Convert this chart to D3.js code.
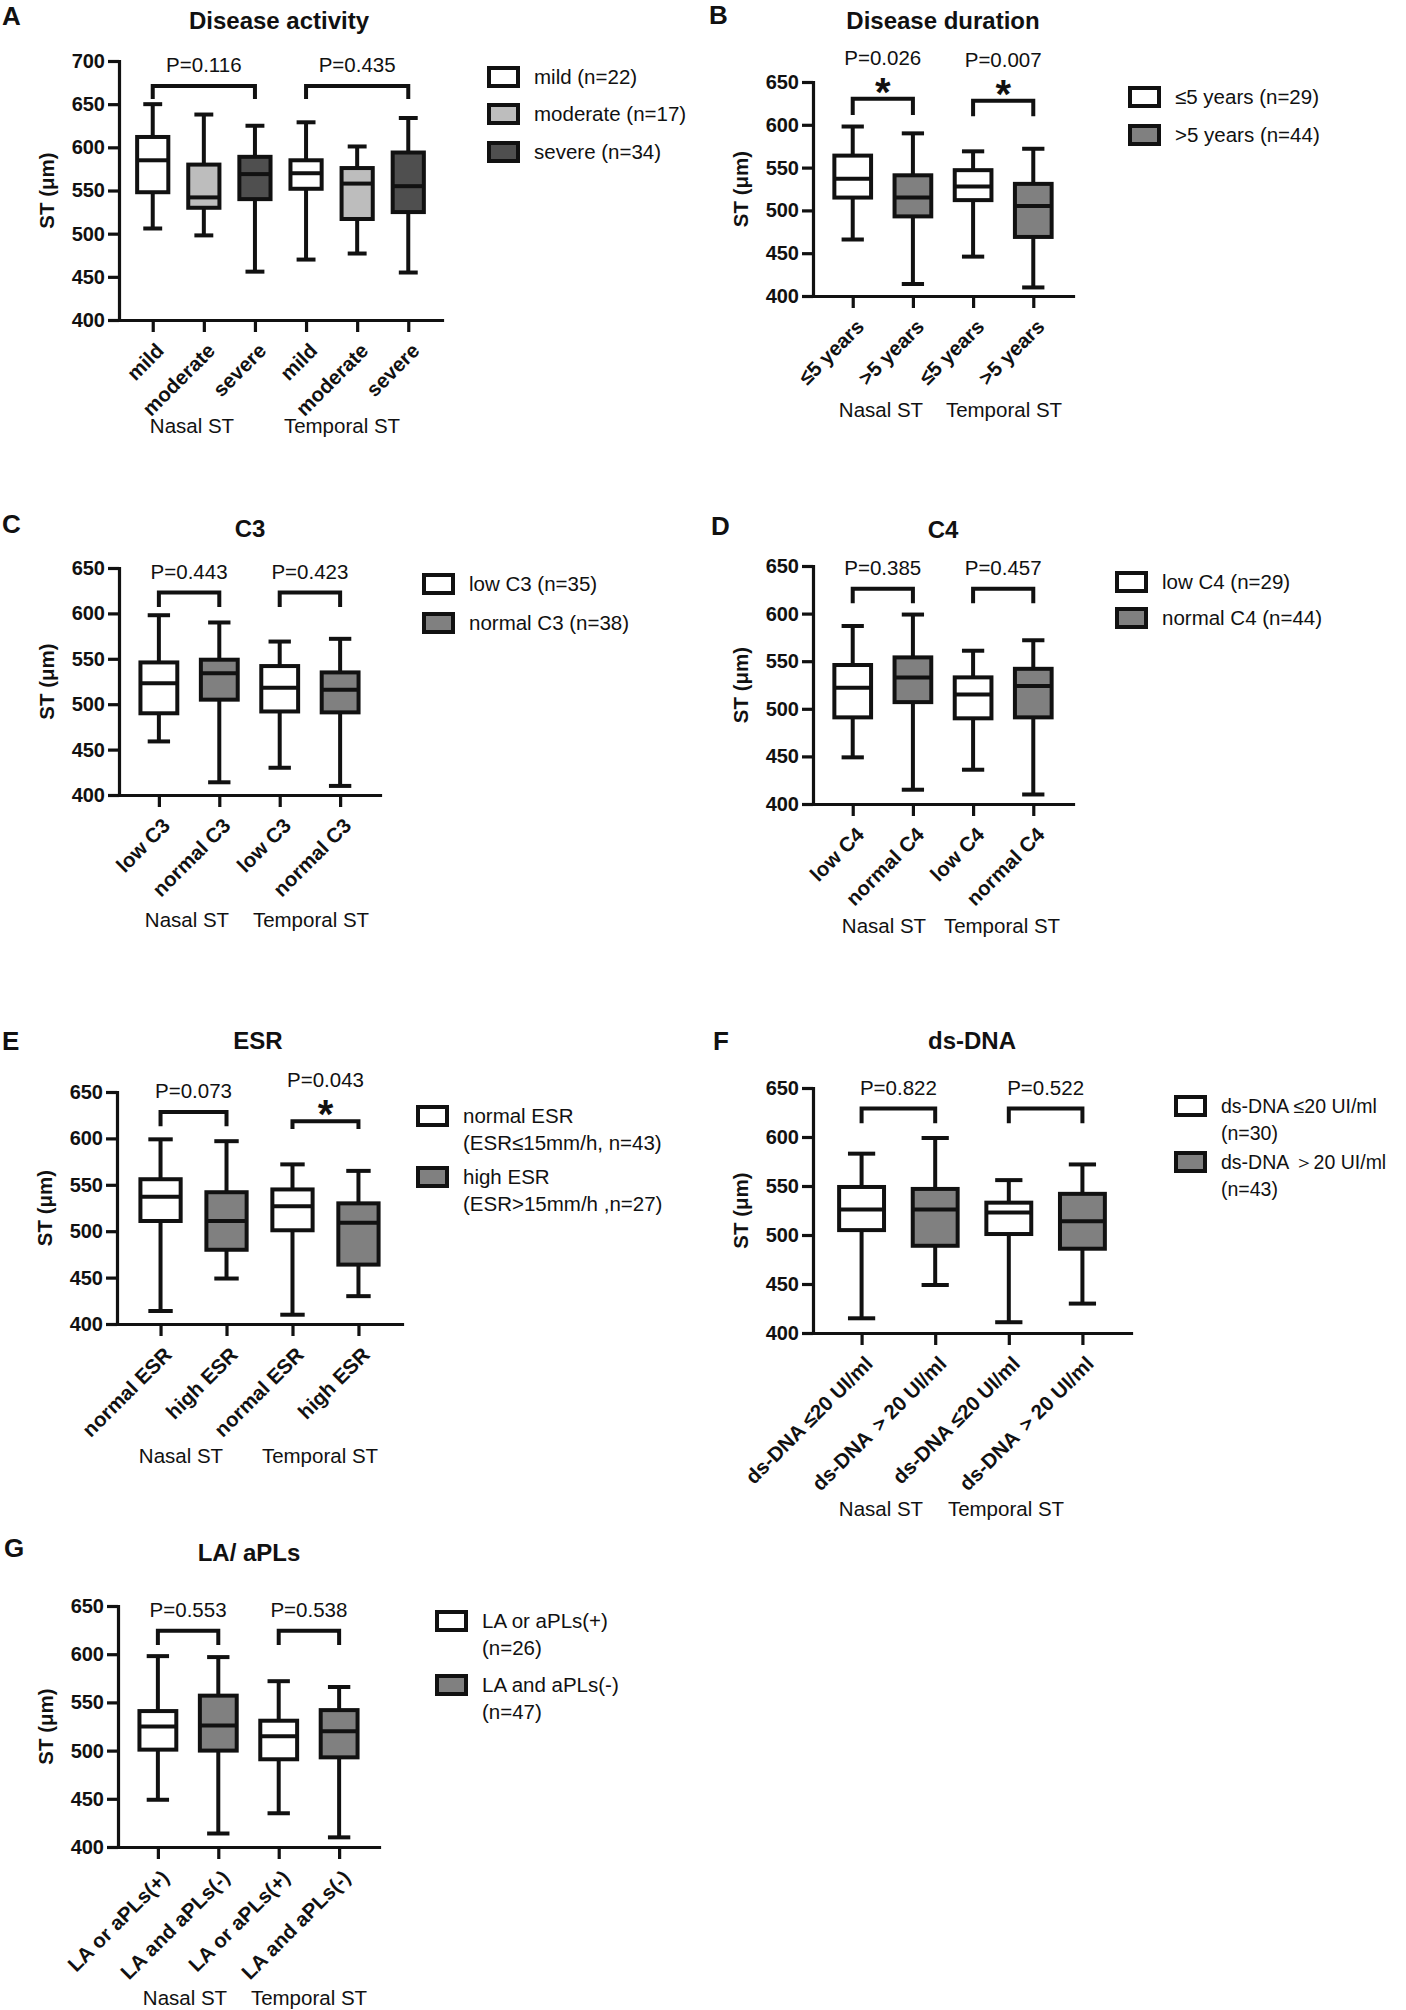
<!DOCTYPE html>
<html>
<head>
<meta charset="utf-8">
<script src="https://cdn.jsdelivr.net/npm/d3@7"></script>
<style>
body { margin: 0; background: #fff; }
svg text { font-family: Arial, "Liberation Sans", sans-serif; fill: #111; }
</style>
</head>
<body>
<svg id="fig" width="1406" height="2010"></svg>
<script>
const regions = ["Nasal ST", "Temporal ST"]

// box stats: [min, Q1, median, Q3, max], nasal boxes first, then temporal
const activityCats = ["mild", "moderate", "severe"]
const activityBoxes = [
    [506, 548, 585, 612, 650], [498, 530, 542, 580, 638], [456, 540, 569, 589, 625],
    [470, 552, 570, 585, 629], [477, 517, 558, 576, 601], [455, 525, 555, 594, 634]
]
const activityLegend = [["mild (n=22)"], ["moderate (n=17)"], ["severe (n=34)"]]
const activityP = ["P=0.116", "P=0.435"]
const activityBrackets = [[671, 656], [671, 656]]
const activityStars = [false, false]

const durationCats = ["≤5 years", ">5 years"]
const durationBoxes = [
    [466, 515, 537, 564, 598], [414, 493, 515, 541, 590],
    [446, 512, 528, 547, 569], [410, 469, 505, 531, 572]
]
const durationLegend = [["≤5 years (n=29)"], [">5 years (n=44)"]]
const durationP = ["P=0.026", "P=0.007"]
const durationBrackets = [[630.5, 611.5], [628, 610]]
const durationStars = [true, true]

const c3Cats = ["low C3", "normal C3"]
const c3Boxes = [
    [459, 490, 523, 546, 598], [414, 505, 534, 549, 590],
    [430, 492, 518, 542, 569], [410, 491, 516, 535, 572]
]
const c3Legend = [["low C3 (n=35)"], ["normal C3 (n=38)"]]
const c3P = ["P=0.443", "P=0.423"]
const c3Brackets = [[623, 607], [623, 607]]
const c3Stars = [false, false]

const c4Cats = ["low C4", "normal C4"]
const c4Boxes = [
    [449, 491, 522, 546, 587], [415, 507, 533, 554, 599],
    [436, 490, 515, 533, 561], [410, 491, 524, 542, 572]
]
const c4Legend = [["low C4 (n=29)"], ["normal C4 (n=44)"]]
const c4P = ["P=0.385", "P=0.457"]
const c4Brackets = [[626, 611], [626, 611]]
const c4Stars = [false, false]

const esrCats = ["normal ESR", "high ESR"]
const esrBoxes = [
    [414, 511, 537, 556, 599], [449, 480, 511, 542, 597],
    [410, 501, 527, 545, 572], [430, 464, 509, 530, 565]
]
const esrLegend = [["normal ESR", "(ESR≤15mm/h, n=43)"], ["high ESR", "(ESR>15mm/h ,n=27)"]]
const esrP = ["P=0.073", "P=0.043"]
const esrBrackets = [[628.5, 613], [618.5, 610]]
const esrStars = [false, true]

const dnaCats = ["ds-DNA ≤20 UI/ml", "ds-DNA ＞20 UI/ml"]
const dnaBoxes = [
    [415, 505, 526, 549, 583], [449, 489, 526, 547, 599],
    [411, 501, 523, 533, 556], [430, 486, 514, 542, 572]
]
const dnaLegend = [["ds-DNA ≤20 UI/ml", "(n=30)"], ["ds-DNA ＞20 UI/ml", "(n=43)"]]
const dnaP = ["P=0.822", "P=0.522"]
const dnaBrackets = [[629, 614], [629, 614]]
const dnaStars = [false, false]

const laCats = ["LA or aPLs(+)", "LA and aPLs(-)"]
const laBoxes = [
    [449, 501, 525, 541, 598], [414, 500, 526, 557, 597],
    [435, 491, 515, 531, 572], [410, 493, 520, 542, 566]
]
const laLegend = [["LA or aPLs(+)", "(n=26)"], ["LA and aPLs(-)", "(n=47)"]]
const laP = ["P=0.553", "P=0.538"]
const laBrackets = [[624.4, 609.5], [624.4, 609.5]]
const laStars = [false, false]

const threeFills = ["#ffffff", "#bdbdbd", "#4f4f4f"]
const twoFills = ["#ffffff", "#808080"]

const panels = [
    {letter: "A", title: "Disease activity", cats: activityCats, boxes: activityBoxes, legend: activityLegend,
     pvals: activityP, brackets: activityBrackets, stars: activityStars, fills: threeFills, yMax: 700,
     lay: {x0: 119, x1: 442, yTop: 61, yBot: 320, lx: 2, ly: 25, tx: 279, ty: 29,
           legX: 489, legY: [77, 114, 152], groupX: [192, 342], groupY: 433}},
    {letter: "B", title: "Disease duration", cats: durationCats, boxes: durationBoxes, legend: durationLegend,
     pvals: durationP, brackets: durationBrackets, stars: durationStars, fills: twoFills, yMax: 650,
     lay: {x0: 813, x1: 1073, yTop: 82, yBot: 296, lx: 709, ly: 24, tx: 943, ty: 29,
           legX: 1130, legY: [97, 135], groupX: [881, 1004], groupY: 417}},
    {letter: "C", title: "C3", cats: c3Cats, boxes: c3Boxes, legend: c3Legend,
     pvals: c3P, brackets: c3Brackets, stars: c3Stars, fills: twoFills, yMax: 650,
     lay: {x0: 119, x1: 380, yTop: 568, yBot: 795, lx: 2, ly: 533, tx: 250, ty: 537,
           legX: 424, legY: [584, 623], groupX: [187, 311], groupY: 927}},
    {letter: "D", title: "C4", cats: c4Cats, boxes: c4Boxes, legend: c4Legend,
     pvals: c4P, brackets: c4Brackets, stars: c4Stars, fills: twoFills, yMax: 650,
     lay: {x0: 813, x1: 1073, yTop: 566, yBot: 804, lx: 711, ly: 535, tx: 943, ty: 538,
           legX: 1117, legY: [582, 618], groupX: [884, 1002], groupY: 933}},
    {letter: "E", title: "ESR", cats: esrCats, boxes: esrBoxes, legend: esrLegend,
     pvals: esrP, brackets: esrBrackets, stars: esrStars, fills: twoFills, yMax: 650,
     lay: {x0: 117, x1: 402, yTop: 1092, yBot: 1324, lx: 2, ly: 1050, tx: 258, ty: 1049,
           legX: 418, legY: [1116, 1177], groupX: [181, 320], groupY: 1463}},
    {letter: "F", title: "ds-DNA", cats: dnaCats, boxes: dnaBoxes, legend: dnaLegend,
     pvals: dnaP, brackets: dnaBrackets, stars: dnaStars, fills: twoFills, yMax: 650,
     lay: {x0: 813, x1: 1131, yTop: 1088, yBot: 1333, lx: 713, ly: 1050, tx: 972, ty: 1049,
           legX: 1176, legY: [1106, 1162], legFont: 19.5, groupX: [881, 1006], groupY: 1516}},
    {letter: "G", title: "LA/ aPLs", cats: laCats, boxes: laBoxes, legend: laLegend,
     pvals: laP, brackets: laBrackets, stars: laStars, fills: twoFills, yMax: 650,
     lay: {x0: 118, x1: 379, yTop: 1606, yBot: 1847, lx: 4, ly: 1557, tx: 249, ty: 1561,
           legX: 437, legY: [1621, 1685], groupX: [185, 309], groupY: 2005}}
]

const svg = d3.select("#fig")
const LW = 4

panels.forEach(drawPanel)

function drawPanel(p) {
    const lay = p.lay
    const g = svg.append("g")
    const nCat = p.cats.length
    const labels = regions.flatMap(() => p.cats)

    const x = d3.scalePoint()
        .domain(d3.range(labels.length))
        .range([lay.x0, lay.x1])
        .padding(0.66)
    const y = d3.scaleLinear()
        .domain([400, p.yMax])
        .range([lay.yBot, lay.yTop])
    const step = x.step()
    const boxW = step * 0.61
    const capW = step * 0.37

    // panel letter and title
    g.append("text")
        .attr("x", lay.lx).attr("y", lay.ly)
        .attr("font-size", 26).attr("font-weight", "bold")
        .text(p.letter)
    g.append("text")
        .attr("x", lay.tx).attr("y", lay.ty)
        .attr("text-anchor", "middle")
        .attr("font-size", 24).attr("font-weight", "bold")
        .text(p.title)

    // axes
    let yAxis = g.append("g")
        .attr("transform", `translate(${lay.x0},0)`)
        .call(d3.axisLeft(y).tickValues(d3.range(400, p.yMax + 1, 50)).tickSize(11).tickSizeOuter(0).tickPadding(3))
    let xAxis = g.append("g")
        .attr("transform", `translate(0,${lay.yBot})`)
        .call(d3.axisBottom(x).tickSize(12).tickSizeOuter(0).tickFormat(i => labels[i]))
    ;[yAxis, xAxis].forEach(a => {
        a.select(".domain").attr("stroke", "#111").attr("stroke-width", 3.2).attr("stroke-linecap", "square")
        a.selectAll(".tick line").attr("stroke", "#111").attr("stroke-width", 3.2)
    })
    yAxis.selectAll(".tick text")
        .attr("font-size", 20).attr("font-weight", "bold")
        .attr("font-family", "Arial, 'Liberation Sans', sans-serif")
        .attr("fill", "#111")
    xAxis.selectAll(".tick text")
        .attr("font-size", 20.5).attr("font-weight", "bold")
        .attr("font-family", "Arial, 'Liberation Sans', sans-serif")
        .attr("fill", "#111")
        .attr("text-anchor", "end")
        .attr("x", 0).attr("y", 0).attr("dy", 0)
        .attr("transform", "translate(12,32) rotate(-45)")

    // y title
    const midY = (lay.yTop + lay.yBot) / 2
    g.append("text")
        .attr("transform", `translate(${lay.x0 - 65},${midY}) rotate(-90)`)
        .attr("text-anchor", "middle")
        .attr("font-size", 20.5).attr("font-weight", "bold")
        .text("ST (μm)")

    // group labels
    g.selectAll(".region")
        .data(regions)
        .join("text")
        .classed("region", true)
        .attr("x", (d, i) => lay.groupX[i])
        .attr("y", lay.groupY)
        .attr("text-anchor", "middle")
        .attr("font-size", 20.5)
        .text(d => d)

    // boxes
    const boxG = g.selectAll(".box")
        .data(p.boxes)
        .join("g")
        .classed("box", true)
        .attr("transform", (d, i) => `translate(${x(i)},0)`)

    boxG.append("line")
        .attr("y1", d => y(d[4])).attr("y2", d => y(d[0]))
        .attr("stroke", "#111").attr("stroke-width", LW)
    boxG.append("line")
        .attr("x1", -capW / 2).attr("x2", capW / 2)
        .attr("y1", d => y(d[4])).attr("y2", d => y(d[4]))
        .attr("stroke", "#111").attr("stroke-width", LW)
    boxG.append("line")
        .attr("x1", -capW / 2).attr("x2", capW / 2)
        .attr("y1", d => y(d[0])).attr("y2", d => y(d[0]))
        .attr("stroke", "#111").attr("stroke-width", LW)
    boxG.append("rect")
        .attr("x", -boxW / 2).attr("width", boxW)
        .attr("y", d => y(d[3]))
        .attr("height", d => y(d[1]) - y(d[3]))
        .attr("fill", (d, i) => p.fills[i % nCat])
        .attr("stroke", "#111").attr("stroke-width", LW)
    boxG.append("line")
        .attr("x1", -boxW / 2).attr("x2", boxW / 2)
        .attr("y1", d => y(d[2])).attr("y2", d => y(d[2]))
        .attr("stroke", "#111").attr("stroke-width", LW)

    // brackets, p values and stars
    regions.forEach((r, gi) => {
        const xa = x(gi * nCat)
        const xb = x(gi * nCat + nCat - 1)
        const [bar, tip] = p.brackets[gi]
        const yb = y(bar)
        g.append("path")
            .attr("d", `M${xa},${y(tip)}V${yb}H${xb}V${y(tip)}`)
            .attr("fill", "none").attr("stroke", "#111").attr("stroke-width", LW)
        g.append("text")
            .attr("x", (xa + xb) / 2)
            .attr("y", p.stars[gi] ? yb - 34 : yb - 14)
            .attr("text-anchor", "middle")
            .attr("font-size", 20.5)
            .text(p.pvals[gi])
        if (p.stars[gi]) {
            g.append("text")
                .attr("x", (xa + xb) / 2)
                .attr("y", yb + 7)
                .attr("text-anchor", "middle")
                .attr("font-size", 40).attr("font-weight", "bold")
                .text("*")
        }
    })

    // legend
    const leg = g.selectAll(".leg")
        .data(p.legend)
        .join("g")
        .classed("leg", true)
        .attr("transform", (d, i) => `translate(${lay.legX},${lay.legY[i]})`)
    leg.append("rect")
        .attr("x", 0).attr("y", -9)
        .attr("width", 29).attr("height", 18)
        .attr("fill", (d, i) => p.fills[i])
        .attr("stroke", "#111").attr("stroke-width", LW)
    leg.selectAll("text")
        .data(d => d)
        .join("text")
        .attr("x", 45)
        .attr("y", (d, i) => 7 + i * 27)
        .attr("font-size", lay.legFont || 20.5)
        .text(d => d)
}
</script>
</body>
</html>
